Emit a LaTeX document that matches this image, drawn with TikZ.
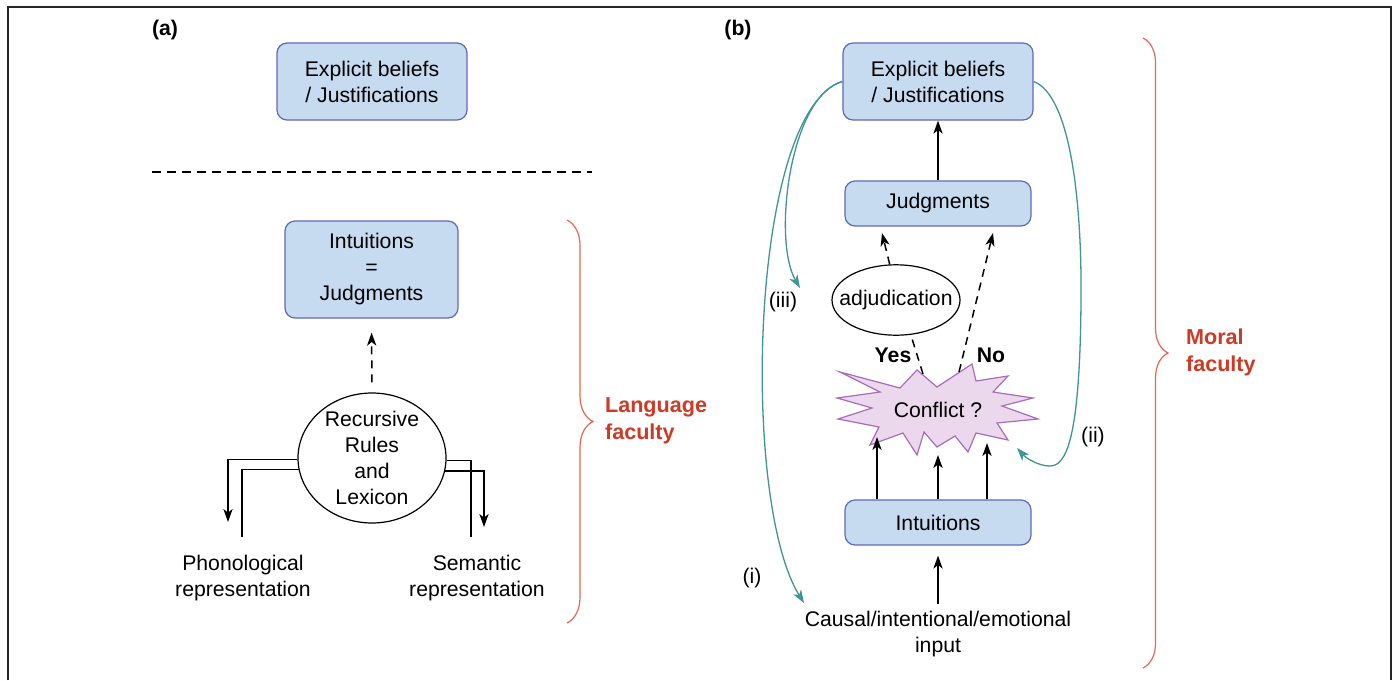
\documentclass[tikz,border=0pt]{standalone}
\usepackage{fontspec}
\setmainfont{Liberation Sans}
\usetikzlibrary{positioning, calc, shapes.geometric, arrows.meta, decorations.pathreplacing}

\definecolor{boxfill}{RGB}{198,218,240}
\definecolor{boxline}{RGB}{95,105,185}
\definecolor{tealline}{RGB}{62,148,150}
\definecolor{facred}{RGB}{205,58,38}
\definecolor{bracered}{RGB}{226,104,84}
\definecolor{burstfill}{RGB}{236,216,236}
\definecolor{burstline}{RGB}{168,108,186}

\begin{document}
\begin{tikzpicture}[x=0.5pt, y=-0.5pt,
    font=\fontsize{10.6}{13}\selectfont,
    box/.style={draw=boxline, fill=boxfill, line width=0.6pt, rounded corners=5pt, align=center, inner sep=0pt},
    oval/.style={draw, ellipse, line width=0.6pt, align=center},
    arr/.style={-{Stealth[length=6.5pt, width=4.6pt, inset=1.8pt]}, line width=0.75pt},
    darr/.style={arr, dash pattern=on 4pt off 3pt},
    tarr/.style={-{Stealth[length=6.5pt, width=4.6pt, inset=1.8pt]}, draw=tealline, line width=0.65pt},
    brc/.style={draw=bracered, line width=0.6pt, decorate, decoration={brace, amplitude=#1}},
    boldlbl/.style={font=\fontsize{10.6}{13}\selectfont\bfseries},
    faclabel/.style={font=\fontsize{10.8}{13.5}\selectfont\bfseries, text=facred, align=left, anchor=west}]

    \useasboundingbox (0,0) rectangle (1396,680);

    % Draw the frame
    \draw[line width=1pt, black!85] (8,680) -- (8,7) -- (1391,7) -- (1391,680);

    % Panel (a)
    \node[boldlbl] (lbl-a) at (165,30) {(a)};
    \node[box, minimum width=95pt, minimum height=38.5pt] (expl-a) at (372,81.5) {Explicit beliefs\\/ Justifications};
    \draw[line width=0.75pt, dash pattern=on 4.5pt off 3pt] (152,172) -- (592,172);
    \node[box, minimum width=86.5pt, minimum height=48.5pt] (intjudg) at (371.5,269.5) {Intuitions\\=\\Judgments};
    \node[oval, minimum width=74pt, minimum height=65pt, inner xsep=0pt, inner ysep=-2pt] (rules) at (372,458) {Recursive\\Rules\\and\\Lexicon};
    \node[align=center] (phon) at (243,578) {Phonological\\representation};
    \node[align=center] (sem) at (477,578) {Semantic\\representation};

    \coordinate (ph-out) at (228,522);
    \coordinate (ph-in) at (242,537);
    \coordinate (se-in) at (471,537);
    \coordinate (se-out) at (484,527);

    \draw[darr, shorten <=5pt, shorten >=7pt] (rules.north) -- (intjudg.south);
    \draw[arr] (rules.181.6) -| (ph-out);
    \draw[line width=0.75pt] (rules.189.3) -| (ph-in);
    \draw[line width=0.75pt] (rules.358.4) -| (se-in);
    \draw[arr] (rules.350.7) -| (se-out);

    \draw[brc=13pt] (567,220) -- (567,623);
    \node[faclabel] (lang) at (598,421) {Language\\faculty};

    % Panel (b)
    \node[boldlbl] (lbl-b) at (738,30) {(b)};
    \node[box, minimum width=95pt, minimum height=38.5pt] (expl-b) at (938,81.5) {Explicit beliefs\\/ Justifications};
    \node[box, minimum width=93pt, minimum height=22.5pt] (judg) at (938,203.5) {Judgments};
    \node[oval, minimum width=64pt, minimum height=35pt, inner xsep=-6pt, inner ysep=7.5pt] (adj) at (896,300) {adjudication};

    % the conflict burst
    \filldraw[fill=burstfill, draw=burstline, line width=0.6pt, shift={(938,410)}]
        (-98,-38) -- (-38,-22) -- (-21,-40) -- (-1,-23) -- (34,-46) -- (38,-29)
        -- (70,-34) -- (55,-18) -- (95,-12) -- (64,-4) -- (100,9) -- (59,13)
        -- (70,30) -- (38,23) -- (30,42) -- (17,26) -- (-1,37) -- (-14,22)
        -- (-21,45) -- (-35,23) -- (-68,35) -- (-59,17) -- (-100,9) -- (-66,-2)
        -- (-101,-12) -- (-58,-18) -- cycle;
    \node (conflict) at (938,410) {Conflict ?};

    \node[box, minimum width=93pt, minimum height=22.5pt] (intu) at (938,522.5) {Intuitions};
    \node[align=center] (input) at (938,634) {Causal/intentional/emotional\\input};

    \node[boldlbl] (yes) at (893,355) {Yes};
    \node[boldlbl] (no) at (991,355) {No};

    \coordinate (cf-l) at (877,437);
    \coordinate (cf-m) at (938,455);
    \coordinate (cf-r) at (987,443);
    \coordinate (yes-top) at (882,233);
    \coordinate (yes-bot) at (923,374);
    \coordinate (no-top) at (993,233);
    \coordinate (no-bot) at (959,372);

    \draw[arr] (judg) -- (expl-b);
    \draw[arr, shorten >=5pt] (input) -- (intu);
    \draw[arr] (intu.north -| cf-l) -- (cf-l);
    \draw[arr] (intu.north -| cf-m) -- (cf-m);
    \draw[arr] (intu.north -| cf-r) -- (cf-r);
    \draw[darr] (adj.100) -- (yes-top);
    \draw[line width=0.75pt, dash pattern=on 4pt off 3pt] (yes-bot) -- (adj.293);
    \draw[darr] (no-bot) -- (no-top);

    % teal feedback curves
    \coordinate (iii-end) at (800,288);
    \coordinate (i-end) at (804,603);
    \coordinate (ii-end) at (1017,448);
    \draw[tarr] (expl-b.west) .. controls (790,95) and (772,240) .. (iii-end);
    \draw[tarr] (expl-b.west) .. controls (750,110) and (740,500) .. (i-end);
    \draw[tarr] (expl-b.east) .. controls (1070,95) and (1082,200) .. (1081,300)
        .. controls (1080,440) and (1066,466) .. (1050,466)
        .. controls (1038,466) and (1026,458) .. (ii-end);
    \node (lbl-iii) at (783,302) {(iii)};
    \node (lbl-i) at (752,578) {(i)};
    \node (lbl-ii) at (1093,437) {(ii)};

    \draw[brc=12.5pt] (1143,38) -- (1143,668);
    \node[faclabel] (moral) at (1179,352) {Moral\\faculty};

\end{tikzpicture}
\end{document}
